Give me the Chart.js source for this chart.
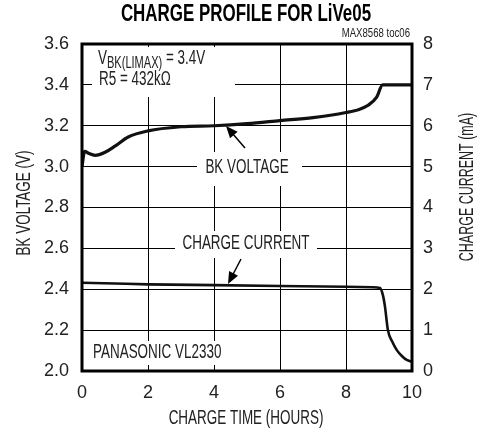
<!DOCTYPE html>
<html>
<head>
<meta charset="utf-8">
<script src="https://cdn.jsdelivr.net/npm/chart.js@4"></script>
<style>
  body { margin: 0; background: #fff; }
</style>
</head>
<body>
<canvas id="myChart" width="487" height="437"></canvas>
<script>
// Data
const voltTime = [0, 0.08, 0.2, 0.4, 0.7, 1.0, 1.4, 2.0, 3.0, 4.0, 5.0, 6.0, 7.0, 8.0, 8.4, 8.67, 8.93, 9.11, 10];
const bkVoltage = [3.00, 3.075, 3.065, 3.055, 3.07, 3.10, 3.145, 3.175, 3.195, 3.20, 3.21, 3.225, 3.24, 3.265, 3.28, 3.30, 3.34, 3.40, 3.40];
const currTime = [0, 1, 2, 4, 6, 8, 8.8, 9.03, 9.12, 9.18, 9.27, 9.4, 9.54, 9.7, 9.84, 10];
const chargeCurrent = [2.16, 2.14, 2.12, 2.10, 2.08, 2.06, 2.05, 2.03, 1.85, 1.58, 1.0, 0.72, 0.51, 0.36, 0.27, 0.23];

const xTicks = [0, 2, 4, 6, 8, 10];
const voltTicks = [2.0, 2.2, 2.4, 2.6, 2.8, 3.0, 3.2, 3.4, 3.6];
const currTicks = [0, 1, 2, 3, 4, 5, 6, 7, 8];

const FONT = "'Liberation Sans', Arial, sans-serif";
const INK = '#222';
const SQUEEZE = 0.69; // fake a condensed face
const SIZE = 19.5;

function toPoints(xs, ys) {
    return xs.map((x, i) => ({x: x, y: ys[i]}));
}

// draw text squeezed sideways, optionally rotated
function condText(c, txt, x, y, size, align, rot, bold, sq) {
    c.save();
    c.translate(x, y);
    if (rot) c.rotate(rot);
    c.scale(sq || SQUEEZE, 1);
    c.font = (bold ? 'bold ' : '') + size + 'px ' + FONT;
    c.textAlign = align;
    c.textBaseline = 'middle';
    c.fillText(txt, 0, 0);
    c.restore();
}

function textWidth(c, txt, size) {
    c.font = size + 'px ' + FONT;
    return c.measureText(txt).width * SQUEEZE;
}

function arrow(c, x1, y1, x2, y2) {
    const ang = Math.atan2(y2 - y1, x2 - x1);
    const len = 12, half = 5;
    c.strokeStyle = '#000';
    c.lineWidth = 1.5;
    c.beginPath();
    c.moveTo(x1, y1);
    c.lineTo(x2 - Math.cos(ang) * len * 0.8, y2 - Math.sin(ang) * len * 0.8);
    c.stroke();
    c.fillStyle = '#000';
    c.beginPath();
    c.moveTo(x2, y2);
    c.lineTo(x2 - Math.cos(ang) * len - Math.sin(ang) * half, y2 - Math.sin(ang) * len + Math.cos(ang) * half);
    c.lineTo(x2 - Math.cos(ang) * len + Math.sin(ang) * half, y2 - Math.sin(ang) * len - Math.cos(ang) * half);
    c.closePath();
    c.fill();
}

// white boxes behind the notes, then the notes themselves
const notesPlugin = {
    id: 'notes',
    beforeDatasetsDraw(chart) {
        const c = chart.ctx;
        c.save();
        c.fillStyle = '#fff';
        c.fillRect(92, 47, 143, 50);    // V_BK / R5
        c.fillRect(197, 152, 105, 34);  // BK VOLTAGE
        c.fillRect(175, 231, 142, 27);  // CHARGE CURRENT
        c.fillRect(88, 341, 144, 24);   // PANASONIC
        c.restore();
    },
    afterDatasetsDraw(chart) {
        const c = chart.ctx;
        const a = chart.chartArea;
        c.save();
        // frame
        c.strokeStyle = '#000';
        c.lineWidth = 3;
        c.strokeRect(a.left, a.top, a.right - a.left, a.bottom - a.top);

        // title
        c.fillStyle = '#000';
        condText(c, 'CHARGE PROFILE FOR LiVe05', 246, 15, 23, 'center', 0, true, 0.736);
        c.fillStyle = INK;
        condText(c, 'MAX8568 toc06', 410, 34, 12, 'right', 0, false, 0.8);

        // axis titles
        condText(c, 'CHARGE TIME (HOURS)', 246, 419, SIZE, 'center');
        condText(c, 'BK VOLTAGE (V)', 25, 203, SIZE, 'center', -Math.PI / 2);
        condText(c, 'CHARGE CURRENT (mA)', 468, 187, SIZE, 'center', -Math.PI / 2, false, 0.64);

        // V_BK(LIMAX) = 3.4V
        let x = 98;
        condText(c, 'V', x, 59, SIZE, 'left');
        x += textWidth(c, 'V', SIZE);
        condText(c, 'BK(LIMAX)', x, 64, 16, 'left');
        x += textWidth(c, 'BK(LIMAX)', 16);
        condText(c, ' = 3.4V', x, 59, SIZE, 'left');
        condText(c, 'R5 = 432k\u03A9', 99, 80, SIZE, 'left');

        condText(c, 'BK VOLTAGE', 247, 168, SIZE, 'center');
        condText(c, 'CHARGE CURRENT', 246, 244, SIZE, 'center');
        condText(c, 'PANASONIC VL2330', 93, 353, SIZE, 'left');

        arrow(c, 245, 148, 226, 126);
        arrow(c, 241, 259, 228, 284);
        c.restore();
    }
};

var ctx = document.getElementById('myChart').getContext('2d');
var chart = new Chart(ctx, {
    type: 'line',
    data: {
        datasets: [{
            label: 'BK VOLTAGE',
            data: toPoints(voltTime, bkVoltage),
            yAxisID: 'y',
            borderColor: '#111',
            borderWidth: 3.2,
            pointRadius: 0,
            cubicInterpolationMode: 'monotone',
            fill: false
        }, {
            label: 'CHARGE CURRENT',
            data: toPoints(currTime, chargeCurrent),
            yAxisID: 'y1',
            borderColor: '#111',
            borderWidth: 2.6,
            pointRadius: 0,
            cubicInterpolationMode: 'monotone',
            fill: false
        }]
    },
    options: {
        responsive: false,
        animation: false,
        layout: { padding: { top: 44, left: 0, right: 0, bottom: 0 } },
        plugins: { legend: { display: false }, tooltip: { enabled: false }, title: { display: false } },
        scales: {
            x: {
                type: 'linear', min: 0, max: 10,
                afterFit: s => { s.height = 66; },
                afterBuildTicks: s => { s.ticks = xTicks.map(v => ({value: v})); },
                grid: { color: '#000', lineWidth: 1, drawTicks: false },
                border: { display: false },
                ticks: { color: INK, padding: 11, font: { family: FONT, size: 18 } }
            },
            y: {
                position: 'left', min: 2.0, max: 3.6,
                afterFit: s => { s.width = 82; },
                afterBuildTicks: s => { s.ticks = voltTicks.map(v => ({value: v})); },
                grid: { color: '#000', lineWidth: 1, drawTicks: false },
                border: { display: false },
                ticks: { color: INK, padding: 13, font: { family: FONT, size: 18 }, callback: v => v.toFixed(1) }
            },
            y1: {
                position: 'right', min: 0, max: 8,
                afterFit: s => { s.width = 75; },
                afterBuildTicks: s => { s.ticks = currTicks.map(v => ({value: v})); },
                grid: { display: false, drawTicks: false },
                border: { display: false },
                ticks: { color: INK, padding: 11, font: { family: FONT, size: 18 } }
            }
        }
    },
    plugins: [notesPlugin]
});
</script>
</body>
</html>
